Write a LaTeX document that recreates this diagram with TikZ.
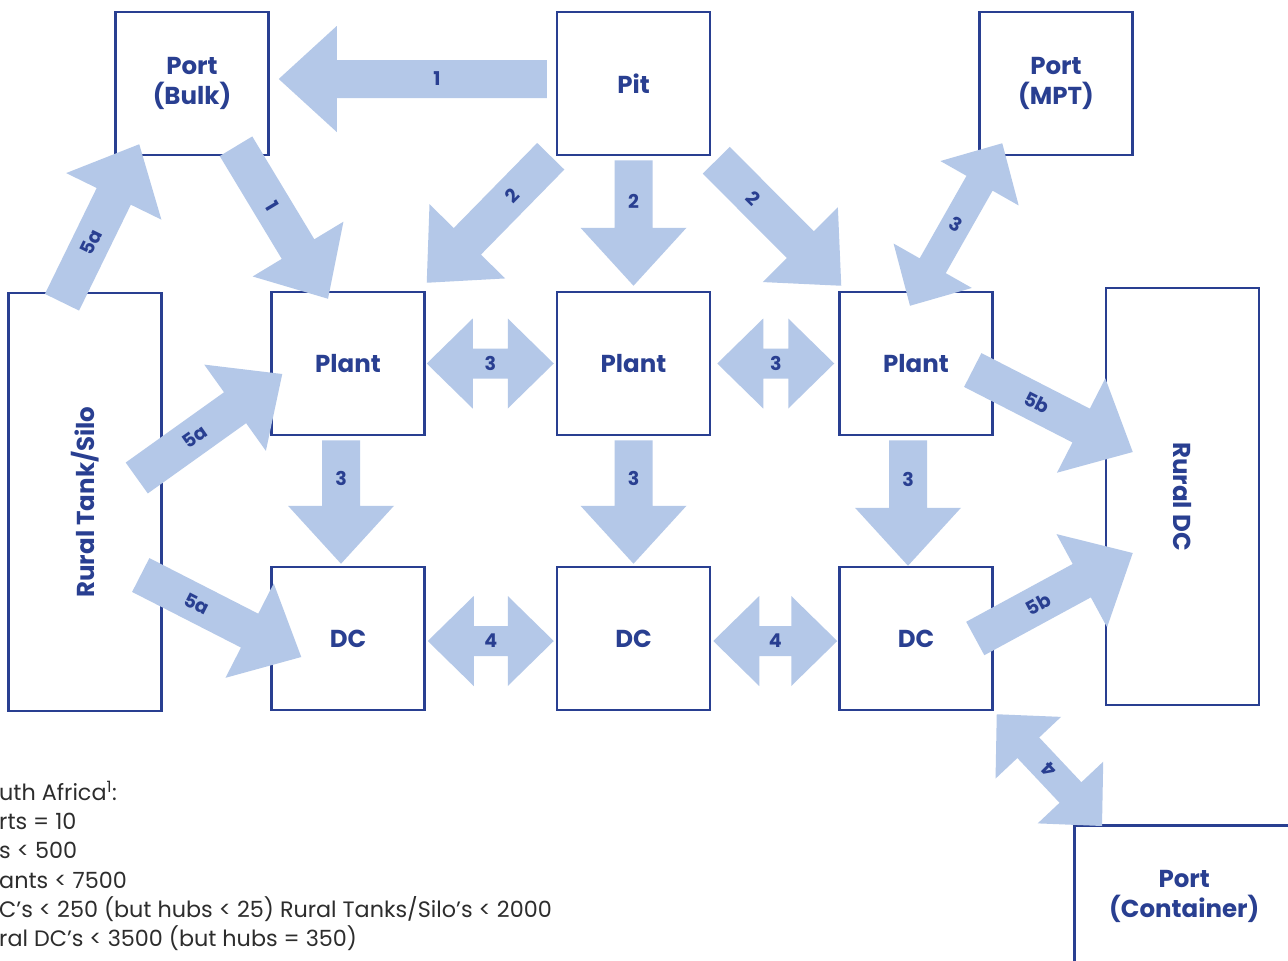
\documentclass[tikz,border=0pt]{standalone}
\usepackage{fontspec}
\setmainfont{Poppins}
\usetikzlibrary{calc}

\definecolor{navy}{RGB}{41,63,145}
\definecolor{flowblue}{RGB}{180,200,232}
\definecolor{notegray}{RGB}{45,45,45}

\newcommand{\boxfont}{\fontsize{24.5}{30}\selectfont\bfseries}
\newcommand{\labfont}{\fontsize{19}{22}\selectfont\bfseries}
\newcommand{\notefont}{\fontsize{22.3}{28}\selectfont}

\tikzset{
    box/.style={draw=navy, line width=2.5pt, fill=white, text=navy, font=\boxfont, align=center, inner sep=0pt, minimum width=153pt, minimum height=143pt},
    flow/.style={fill=flowblue},
    flowlab/.style={font=\labfont, text=navy, inner sep=0pt},
    note/.style={font=\notefont, text=notegray, anchor=base west, inner sep=0pt}
}

% block arrow: tail, tip, label, label pos, label angle, label name
\newcommand{\flowarrow}[6]{
\coordinate (fa-a) at #1;
\coordinate (fa-b) at #2;
\coordinate (fa-h) at ($(fa-b)!58pt!(fa-a)$);
\fill[flow] ($(fa-a)!19pt!90:(fa-b)$) -- ($(fa-h)!19pt!90:(fa-b)$) -- ($(fa-h)!53pt!90:(fa-b)$) -- (fa-b) -- ($(fa-h)!53pt!-90:(fa-b)$) -- ($(fa-h)!19pt!-90:(fa-b)$) -- ($(fa-a)!19pt!-90:(fa-b)$) -- cycle;
\path (fa-a) -- node[flowlab, pos=#4, rotate=#5] (#6) {#3} (fa-b);
}
% two-headed block arrow: tip, tip, label, label pos, label angle, label name
\newcommand{\twoway}[6]{
\coordinate (tw-a) at #1;
\coordinate (tw-b) at #2;
\coordinate (tw-ha) at ($(tw-a)!46pt!(tw-b)$);
\coordinate (tw-hb) at ($(tw-b)!46pt!(tw-a)$);
\fill[flow] (tw-a) -- ($(tw-ha)!45pt!90:(tw-b)$) -- ($(tw-ha)!15pt!90:(tw-b)$) -- ($(tw-hb)!15pt!90:(tw-b)$) -- ($(tw-hb)!45pt!90:(tw-b)$) -- (tw-b) -- ($(tw-hb)!45pt!-90:(tw-b)$) -- ($(tw-hb)!15pt!-90:(tw-b)$) -- ($(tw-ha)!15pt!-90:(tw-b)$) -- ($(tw-ha)!45pt!-90:(tw-b)$) -- cycle;
\path (tw-a) -- node[flowlab, pos=#4, rotate=#5] (#6) {#3} (tw-b);
}

\begin{document}
\begin{tikzpicture}[x=1pt, y=-1pt]
\useasboundingbox[fill=white] (0,0) rectangle (1288,961);

% boxes
\foreach \nm/\x/\y/\txt in {bulk/192/83.5/{Port\\(Bulk)}, pit/633.5/83.5/Pit, mpt/1056/83.5/{Port\\(MPT)}, plant1/348/363.5/Plant, plant2/633.5/363.5/Plant, plant3/916/363.5/Plant, dc1/348/638.5/DC, dc2/633.5/638.5/DC, dc3/916/638.5/DC}{
\node[box] (\nm) at (\x,\y) {\txt};
}
\node[box, minimum height=418pt] (tank) at (85,502) {\rotatebox{90}{Rural Tank/Silo}};
\node[box, minimum height=417pt] (rdc) at (1182.5,496.5) {\rotatebox{-90}{Rural DC}};
\node[box, minimum width=220pt, anchor=north west] (cont) at (1073,824) {Port\\(Container)};

% flows
\flowarrow{($(pit.west)+(-9,-4.5)$)}{($(bulk.east)+(9,-4.5)$)}{1}{.41}{0}{l-pit-bulk}
\flowarrow{($(bulk.south)+(44,-10)$)}{($(plant1.north)+(-20,8)$)}{1}{.39}{-59}{l-bulk-plant1}
\flowarrow{($(pit.south west)+(-5,0)$)}{($(plant1.north east)+(1,-8)$)}{2}{.31}{46}{l-pit-plant1}
\flowarrow{($(pit.south)+(0,4)$)}{($(plant2.north)+(0,-5)$)}{2}{.33}{0}{l-pit-plant2}
\flowarrow{($(pit.south east)+(5,4)$)}{($(plant3.north west)+(3,-5)$)}{2}{.30}{-45}{l-pit-plant3}
\flowarrow{($(tank.north)+(-23,10.5)$)}{($(bulk.south west)+(25,-12)$)}{5a}{.38}{64}{l-tank-bulk}
\flowarrow{($(tank.east)+(-26,-24)$)}{($(plant1.west)+(12,10.5)$)}{5a}{.40}{35}{l-tank-plant1}
\flowarrow{($(tank.east)+(-22,73)$)}{($(dc1.west)+(31,18.5)$)}{5a}{.35}{-27}{l-tank-dc1}
\flowarrow{($(plant1.south)+(-7,4)$)}{($(dc1.north)+(-7,-2)$)}{3}{.31}{0}{l-plant1-dc1}
\flowarrow{($(plant2.south)+(0,4)$)}{($(dc2.north)+(0,-2)$)}{3}{.31}{0}{l-plant2-dc2}
\flowarrow{($(plant3.south)+(-8,4)$)}{($(dc3.north)+(-8,0)$)}{3}{.31}{0}{l-plant3-dc3}
\flowarrow{($(plant3.east)+(-21,6.5)$)}{($(rdc.west)+(28,-44.5)$)}{5b}{.40}{-27}{l-plant3-rdc}
\flowarrow{($(dc3.east)+(-18.5,0)$)}{($(rdc.west)+(28,56.5)$)}{5b}{.40}{28}{l-dc3-rdc}

\twoway{($(plant1.east)+(1,0)$)}{($(plant2.west)+(-2,0)$)}{3}{.5}{0}{l-plant1-plant2}
\twoway{($(plant2.east)+(6,0)$)}{($(plant3.west)+(-4,0)$)}{3}{.5}{0}{l-plant2-plant3}
\twoway{($(dc1.east)+(2,2.5)$)}{($(dc2.west)+(-2,2.5)$)}{4}{.5}{0}{l-dc1-dc2}
\twoway{($(dc2.east)+(2,2.5)$)}{($(dc3.west)+(-1,2.5)$)}{4}{.5}{0}{l-dc2-dc3}
\twoway{($(plant3.north)+(-6,15)$)}{($(mpt.south west)+(24,-13)$)}{3}{.5}{-30}{l-plant3-mpt}
\twoway{($(dc3.south east)+(3,3)$)}{($(cont.north west)+(29,2)$)}{4}{.5}{135}{l-dc3-cont}

% notes
\foreach \txt [count=\i] in {uth Africa\textsuperscript{1}:, rts = 10, s < 500, ants < 7500, {C’s < 250 (but hubs < 25) Rural Tanks/Silo’s < 2000}, {ral DC’s < 3500 (but hubs = 350)}}{
\node[note] (note\i) at (-1,{771+29.3*\i}) {\txt};
}
\end{tikzpicture}
\end{document}
